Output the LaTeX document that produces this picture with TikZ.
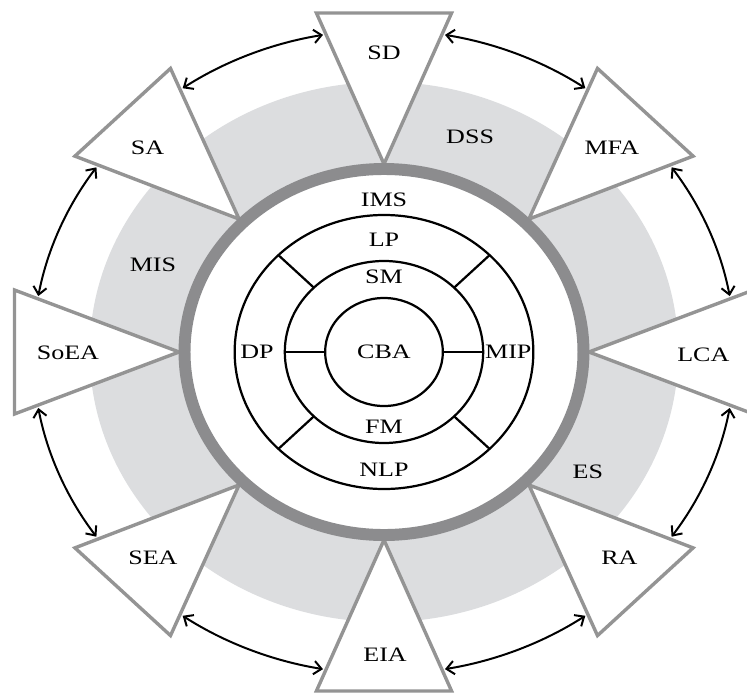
\documentclass[tikz,border=0pt]{standalone}
\usepackage{fontspec}
\setmainfont{Liberation Serif}[FakeStretch=1.27]
\usetikzlibrary{arrows.meta}
\definecolor{ringgray}{HTML}{8C8C8E}
\definecolor{bandgray}{HTML}{DCDDDF}
\definecolor{trigray}{HTML}{949494}
\begin{document}
\begin{tikzpicture}[x=0.03cm,y=0.03cm,xscale=1.09,
  lbl/.style={font=\fontsize{17.5}{21}\selectfont, inner sep=0pt},
  tri/.style={draw=trigray, fill=white, line width=2.9pt, line join=miter},
  thinline/.style={line width=1.9pt, black},
  link/.style={line width=1.7pt, black,
    {Straight Barb[length=2.3mm,width=4mm,line width=1.7pt]}-{Straight Barb[length=2.3mm,width=4mm,line width=1.7pt]}}]
\useasboundingbox (-352.29,-345) rectangle (333.03,352);

% light band around the core
\fill[bandgray] (0,0) circle (8.10cm);
\fill[white] (0,0) circle (5.49cm);

% outer triangles pointing at the core
\foreach \a in {0,45,...,315}
  \draw[tri, rotate=\a] (188,0) -- (339,62) -- (339,-62) -- cycle;

% thick ring
\draw[ringgray, line width=10.2pt] (0,0) circle (5.49cm);

% inner rings and spokes
\draw[thinline] (0,0) circle (1.62cm);
\draw[thinline] (0,0) circle (2.73cm);
\draw[thinline] (0,0) circle (4.11cm);
\foreach \a in {45,135,225,315}
  \draw[thinline] (\a:91) -- (\a:137);
\draw[thinline] (0:54) -- (0:91);
\draw[thinline] (180:54) -- (180:91);

% double arrows between neighbouring triangles
\foreach \a [count=\i] in {0,45,...,315} {
  \coordinate (s\i) at (\a+10:322);
  \coordinate (e\i) at (\a+35:322);
  \draw[link] (s\i) arc[start angle=\a+10, end angle=\a+35, radius=9.66cm];
}

% triangle labels
\node[lbl] (sd)   at (0,299)     {SD};
\node[lbl] (mfa)  at (209,204)   {MFA};
\node[lbl] (lca)  at (293,-3)    {LCA};
\node[lbl] (ra)   at (216,-206)  {RA};
\node[lbl] (eia)  at (1,-303)    {EIA};
\node[lbl] (sea)  at (-212,-206) {SEA};
\node[lbl] (soea) at (-290,-1)   {SoEA};
\node[lbl] (sa)   at (-217,204)  {SA};

% band labels
\node[lbl] (dss) at (79,215)   {DSS};
\node[lbl] (mis) at (-212,87)  {MIS};
\node[lbl] (es)  at (187,-120) {ES};

% core labels
\node[lbl] (ims) at (0,152)    {IMS};
\node[lbl] (lp)  at (0,112)    {LP};
\node[lbl] (sm)  at (0,75)     {SM};
\node[lbl] (dp)  at (-116.5,0) {DP};
\node[lbl] (cba) at (0,0)      {CBA};
\node[lbl] (mip) at (114,0)    {MIP};
\node[lbl] (fm)  at (0,-75)    {FM};
\node[lbl] (nlp) at (0,-118)   {NLP};
\end{tikzpicture}
\end{document}
